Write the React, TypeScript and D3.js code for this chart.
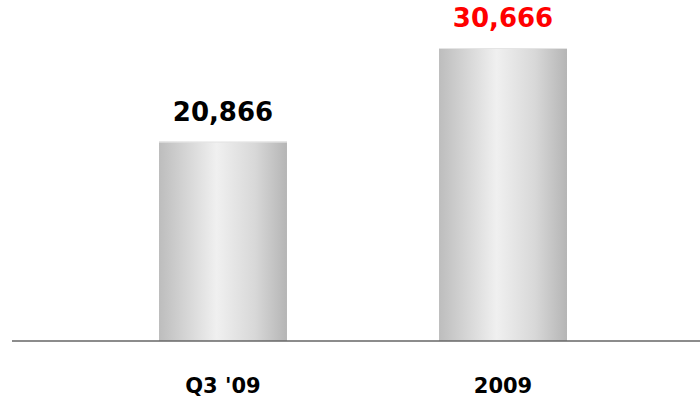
import React from "react";
import * as d3 from "d3";

const categories = ["Q3 '09", "2009"];
const values = [20866, 30666];
const labelColors = ["#000000", "#ff0000"];

const W = 700;
const H = 398;

export default function App() {
  const baseY = 341;
  const x = d3.scaleBand<string>().domain(categories).range([159, 567]).paddingInner(0.543).paddingOuter(0);
  const y = d3.scaleLinear().domain([0, 30666]).range([baseY, 48]);
  const fmt = d3.format(",");
  const font = "'DejaVu Sans', Verdana, sans-serif";
  return (
    <svg width={W} height={H} style={{ position: "absolute", left: 0, top: 0 }}>
      <defs>
        <linearGradient id="barGrad" x1="0" x2="1" y1="0" y2="0">
          <stop offset="0%" stopColor="#bdbdbd" />
          <stop offset="45%" stopColor="#f0f0f0" />
          <stop offset="75%" stopColor="#d8d8d8" />
          <stop offset="100%" stopColor="#b5b5b5" />
        </linearGradient>
      </defs>
      {categories.map((c, i) => {
        const bx = x(c)!;
        const bw = x.bandwidth();
        const by = y(values[i]);
        return (
          <g key={c}>
            <rect x={bx} y={by} width={bw} height={baseY - by} fill="url(#barGrad)" />
            <line x1={bx} x2={bx + bw} y1={by + 0.5} y2={by + 0.5} stroke="#e4e4e4" strokeWidth={1} />
            <text
              x={bx + bw / 2}
              y={by - 21}
              textAnchor="middle"
              fontFamily={font}
              fontWeight="bold"
              fontSize={26}
              fill={labelColors[i]}
            >
              {fmt(values[i])}
            </text>
            <text
              x={bx + bw / 2}
              y={393}
              textAnchor="middle"
              fontFamily={font}
              fontWeight="bold"
              fontSize={21}
              fill="#000"
            >
              {c}
            </text>
          </g>
        );
      })}
      <line x1={12} x2={700} y1={baseY} y2={baseY} stroke="#666" strokeWidth={1.5} />
    </svg>
  );
}
